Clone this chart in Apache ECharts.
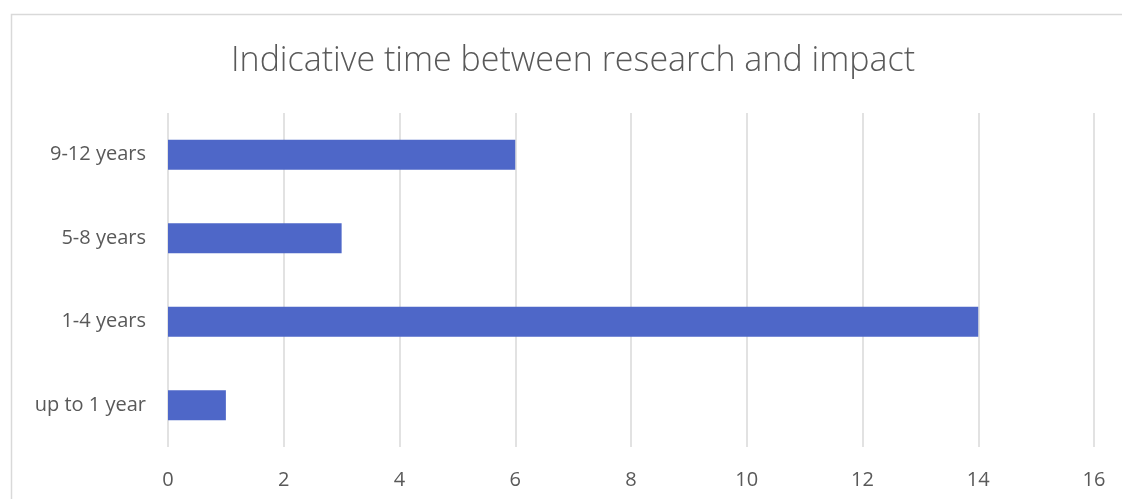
<!DOCTYPE html>
<html>
<head>
<meta charset="utf-8">
<script src="https://cdn.jsdelivr.net/npm/echarts@6/dist/echarts.min.js"></script>
<style>
  html, body { margin: 0; padding: 0; background: #ffffff; }
  #chart { width: 1122px; height: 499px; }
</style>
</head>
<body>
<div id="chart"></div>
<script>
// Time from research to impact, number of cases per bracket
const categories = ['up to 1 year', '1-4 years', '5-8 years', '9-12 years'];
const counts = [1, 14, 3, 6];
const xTicks = { min: 0, max: 16, interval: 2 };

const chart = echarts.init(document.getElementById('chart'), null, { renderer: 'canvas' });

chart.setOption({
  animation: false,
  backgroundColor: '#ffffff',
  title: {
    text: 'Indicative time between research and impact',
    left: 568,
    top: 39,
    textAlign: 'center',
    textStyle: {
      fontFamily: 'Open Sans',
      fontWeight: 300,
      fontSize: 34,
      color: '#595959'
    }
  },
  graphic: [{
    type: 'rect',
    shape: { x: 11.5, y: 14.5, width: 1140, height: 520 },
    style: { fill: 'none', stroke: '#d9d9d9', lineWidth: 1.5 },
    silent: true,
    z: -1
  }],
  grid: { left: 168, right: 28, top: 113, bottom: 52 },
  xAxis: {
    type: 'value',
    min: xTicks.min,
    max: xTicks.max,
    interval: xTicks.interval,
    axisLine: { show: false },
    axisTick: { show: false },
    splitLine: { show: true, lineStyle: { color: '#d9d9d9', width: 1.5 } },
    axisLabel: {
      margin: 23,
      fontFamily: 'Open Sans',
      fontSize: 20,
      color: '#595959'
    }
  },
  yAxis: {
    type: 'category',
    data: categories,
    axisLine: { show: false },
    axisTick: { show: false },
    axisLabel: {
      margin: 22,
      fontFamily: 'Open Sans',
      fontSize: 20,
      color: '#595959'
    }
  },
  series: [{
    type: 'bar',
    data: counts,
    barWidth: 30,
    itemStyle: { color: '#4e67c8' }
  }]
});
</script>
</body>
</html>
